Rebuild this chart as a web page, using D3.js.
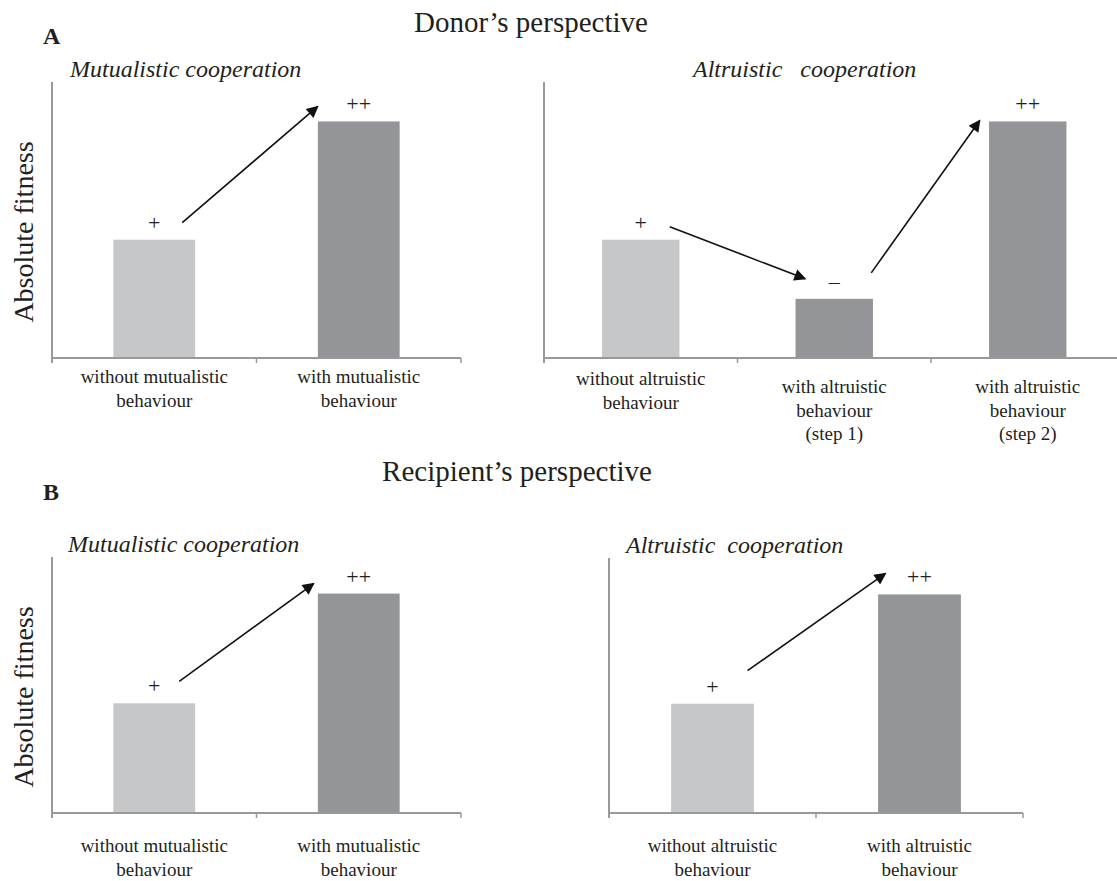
<!DOCTYPE html>
<html><head><meta charset="utf-8">
<script src="https://cdn.jsdelivr.net/npm/d3@7"></script>
<style>
body{margin:0;background:#fff;}
text{font-family:"Liberation Serif","Times New Roman",serif;fill:#231f20;}
</style></head>
<body>
<svg id="chart" width="1117" height="881"></svg>
<script>
// ---- data ----
const mutCategories = [["without mutualistic","behaviour"],["with mutualistic","behaviour"]];
const altDonorCategories = [["without altruistic","behaviour"],["with altruistic","behaviour","(step 1)"],["with altruistic","behaviour","(step 2)"]];
const altRecipCategories = [["without altruistic","behaviour"],["with altruistic","behaviour"]];
const donorMutValues = [3, 6];
const donorAltValues = [3, 1.5, 6];
const recipMutValues = [3, 6];
const recipAltValues = [3, 6];
const donorMutSigns = ["+", "++"];
const donorAltSigns = ["+", "\u2013", "++"];
const recipMutSigns = ["+", "++"];
const recipAltSigns = ["+", "++"];
const barKinds = { donorMut:["light","dark"], donorAlt:["light","dark","dark"], recipMut:["light","dark"], recipAlt:["light","dark"] };
const yMax = 7;

const svg = d3.select("#chart");
const colors = {light:"#c6c7c9", dark:"#939598"};

svg.append("defs").append("marker")
  .attr("id","arrow").attr("viewBox","0 0 10 10").attr("refX",9).attr("refY",5)
  .attr("markerWidth",15).attr("markerHeight",12).attr("markerUnits","userSpaceOnUse")
  .attr("orient","auto")
  .append("path").attr("d","M0,0 L10,5 L0,10 Z").attr("fill","#111");

function panel(opt){
  const g = svg.append("g");
  const x = d3.scaleBand().domain(d3.range(opt.values.length)).range([opt.x0, opt.x0 + opt.band*opt.values.length]).paddingInner(0.6).paddingOuter(0.3);
  const y = d3.scaleLinear().domain([0,yMax]).range([opt.base, opt.top]);
  const cx = i => x(i)+x.bandwidth()/2;
  // bars
  g.selectAll("rect").data(opt.values).join("rect")
    .attr("x",(d,i)=>x(i)).attr("width",x.bandwidth())
    .attr("y",d=>y(d)).attr("height",d=>y(0)-y(d))
    .attr("fill",(d,i)=>colors[opt.kinds[i]]);
  // axes
  g.append("line").attr("x1",opt.x0).attr("x2",opt.x0).attr("y1",opt.top).attr("y2",opt.base+5)
    .attr("stroke","#999").attr("stroke-width",2);
  const xEnd = opt.x0 + opt.band*opt.values.length;
  g.append("line").attr("x1",opt.x0).attr("x2",xEnd).attr("y1",opt.base).attr("y2",opt.base)
    .attr("stroke","#999").attr("stroke-width",2);
  d3.range(opt.values.length+1).forEach(i=>{
    const tx = opt.x0 + opt.band*i;
    g.append("line").attr("x1",tx).attr("x2",tx).attr("y1",opt.base).attr("y2",opt.base+5)
      .attr("stroke","#999").attr("stroke-width",1.5);
  });
  // category labels
  opt.cats.forEach((lines,i)=>{
    const y0 = opt.base + opt.labelGap + (lines.length===3 ? 8 : 0);
    const t = g.append("text").attr("text-anchor","middle").attr("font-size",19);
    lines.forEach((l,j)=>t.append("tspan").attr("x",cx(i)).attr("y",y0+j*23.5).text(l));
  });
  // sign labels
  opt.signs.forEach((s,i)=>{
    g.append("text").attr("text-anchor","middle").attr("font-size",22)
      .attr("x",cx(i)).attr("y",y(opt.values[i])-10).text(s);
  });
  // arrows (offsets relative to bar tops)
  opt.arrows.forEach((a,i)=>{
    g.append("line")
      .attr("x1",cx(i)+a[0]).attr("y1",y(opt.values[i])+a[1])
      .attr("x2",cx(i+1)+a[2]).attr("y2",y(opt.values[i+1])+a[3])
      .attr("stroke","#111").attr("stroke-width",1.6).attr("marker-end","url(#arrow)");
  });
  // title
  g.append("text").attr("x",opt.titleX).attr("y",opt.top-5).attr("font-size",24)
    .attr("font-style","italic").style("white-space","pre").text(opt.title);
  // y label
  if(opt.ylabel){
    g.append("text").attr("transform",`translate(33,${(opt.top+opt.base)/2+12}) rotate(-90)`)
      .attr("text-anchor","middle").attr("font-size",28).text("Absolute fitness");
  }
}

panel({x0:52, band:204.5, top:82, base:358, labelGap:25, values:donorMutValues, kinds:barKinds.donorMut, cats:mutCategories, signs:donorMutSigns,
  arrows:[[28,-17,-41,-15]], title:"Mutualistic cooperation", titleX:70, ylabel:true});
panel({x0:544, band:193.5, top:82, base:358, labelGap:27, values:donorAltValues, kinds:barKinds.donorAlt, cats:altDonorCategories, signs:donorAltSigns,
  arrows:[[29,-13,-29,-20],[37,-26,-48,-1]], title:"Altruistic   cooperation", titleX:693, ylabel:false});
panel({x0:52, band:204.5, top:557, base:813, labelGap:39, values:recipMutValues, kinds:barKinds.recipMut, cats:mutCategories, signs:recipMutSigns,
  arrows:[[25,-22,-45,-10]], title:"Mutualistic cooperation", titleX:68, ylabel:true});
panel({x0:609, band:207, top:558, base:813, labelGap:39, values:recipAltValues, kinds:barKinds.recipAlt, cats:altRecipCategories, signs:recipAltSigns,
  arrows:[[35,-33,-34,-21]], title:"Altruistic  cooperation", titleX:626, ylabel:false});

// headings
svg.append("text").attr("x",43).attr("y",44).attr("font-size",24).attr("font-weight","bold").text("A");
svg.append("text").attr("x",43).attr("y",500).attr("font-size",24).attr("font-weight","bold").text("B");
svg.append("text").attr("x",531).attr("y",32).attr("text-anchor","middle").attr("font-size",29).text("Donor\u2019s perspective");
svg.append("text").attr("x",517).attr("y",481).attr("text-anchor","middle").attr("font-size",29).text("Recipient\u2019s perspective");
</script>
</body></html>
